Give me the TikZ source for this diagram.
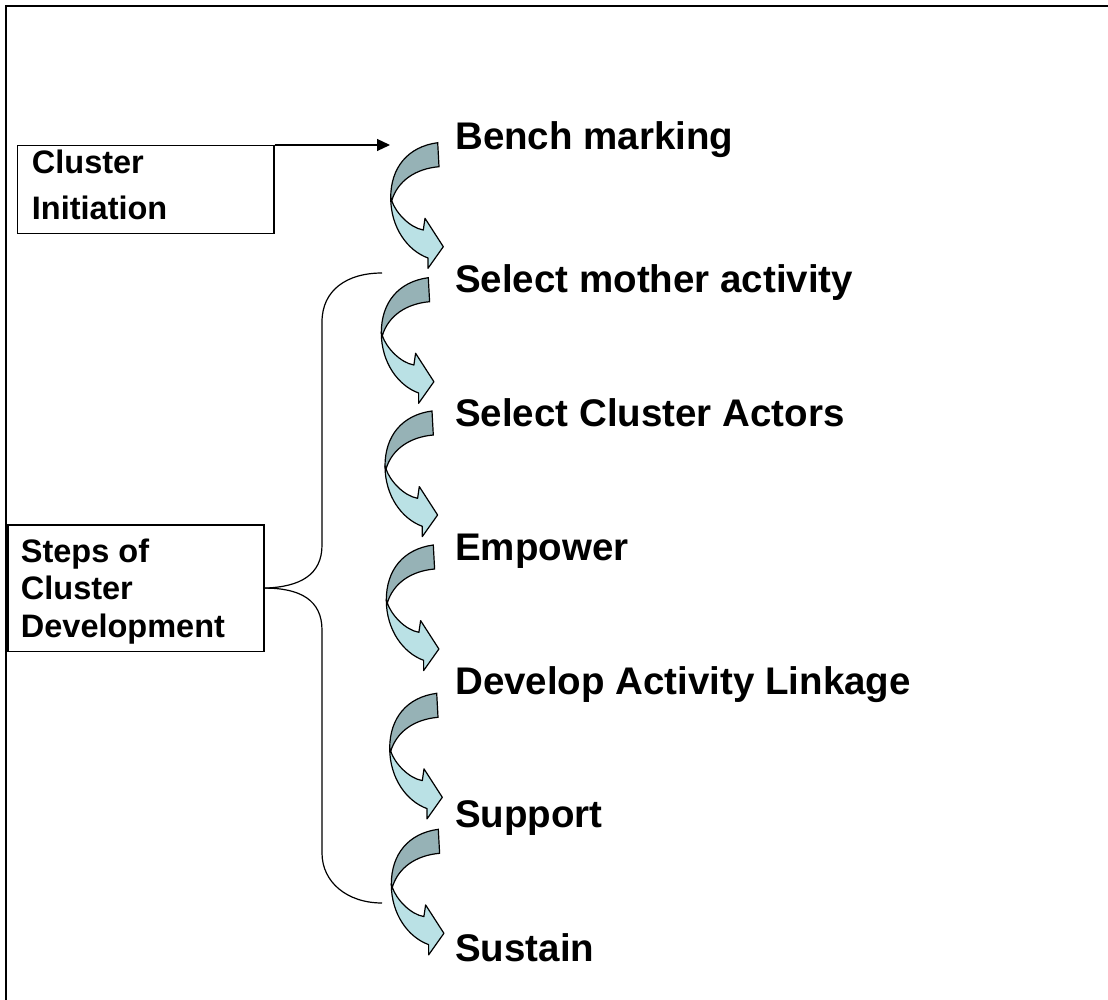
\documentclass[tikz,border=0pt]{standalone}
\usepackage{fontspec}
\setmainfont{Liberation Sans}
\usepackage{tikz}
\usetikzlibrary{arrows.meta}
\definecolor{twistdark}{RGB}{150,178,182}
\definecolor{twistlight}{RGB}{186,225,229}
\tikzset{
  box/.style={draw,line width=1.2pt,anchor=north west,inner sep=0pt},
  boxtext/.style={anchor=base west,align=left,inner sep=0pt},
  stagetext/.style={anchor=base west,inner sep=0pt,font=\fontsize{38.5}{46}\selectfont\bfseries},
  twist/.pic={
    \filldraw[fill=twistdark,line width=1.2pt] (0,0) .. controls (-30,4) and (-47,25) .. (-47,55)
      -- (-46,58) .. controls (-40,38) and (-22,26) .. (1.3,24) -- cycle;
    \filldraw[fill=twistlight,line width=1.2pt,line join=round] (-47,55) .. controls (-47,85) and (-30,108) .. (-9.7,115.3)
      -- (-9.7,125.6) -- (5.6,104) -- (-12.7,75.6) -- (-14.4,87.3)
      .. controls (-28,85) and (-42,70) .. (-46,58) -- cycle;
  }
}

\begin{document}
\begin{tikzpicture}[x=1pt,y=-1pt]
\useasboundingbox (0,0) rectangle (1108,1000);
\clip (0,0) rectangle (1108,1000);
\fill[white] (0,0) rectangle (1108,1000);
\draw[line width=1.8pt] (6,6) rectangle (1130,1030);

  \node[box,minimum width=256.6pt,minimum height=88.3pt] (init) at (16.7,145) {};
  \node[boxtext,font=\fontsize{32.5}{46}\selectfont\bfseries] (initText) at (31.7,220) {Cluster\\Initiation};
  \coordinate (benchIn) at (390,145);
  \draw[line width=1.2pt,-{Triangle[length=13pt,width=12pt]}] (init.north east) -- (benchIn);

  \node[box,minimum width=256pt,minimum height=126.4pt] (steps) at (7.3,524.3) {};
  \node[boxtext,font=\fontsize{32.5}{37.5}\selectfont\bfseries] (stepsText) at (20.7,637) {Steps of\\Cluster\\Development};
  \coordinate (braceTop) at (382,273);
  \coordinate (braceBot) at (382,903);
  \draw[line width=1.2pt] (steps.east) .. controls (300,587) and (322,575) .. (322,545)
    -- (322,322) .. controls (322,290) and (347,273) .. (braceTop);
  \draw[line width=1.2pt] (steps.east) .. controls (300,588) and (322,600) .. (322,630)
    -- (322,853) .. controls (322,882) and (347,903) .. (braceBot);

  \pic at (437.7,142.7) {twist};
  \pic at (428.3,277.7) {twist};
  \pic at (432,411) {twist};
  \pic at (433.3,545) {twist};
  \pic at (436.7,693.3) {twist};
  \pic at (438.3,829.3) {twist};

  \node[stagetext] (bench) at (455,150) {Bench marking};
  \node[stagetext] (mother) at (455,292) {Select mother activity};
  \node[stagetext] (actors) at (455,426) {Select Cluster Actors};
  \node[stagetext] (empower) at (455,560) {Empower};
  \node[stagetext] (linkage) at (455,694) {Develop Activity Linkage};
  \node[stagetext] (support) at (455,827) {Support};
  \node[stagetext] (sustain) at (455,961) {Sustain};
\end{tikzpicture}
\end{document}
